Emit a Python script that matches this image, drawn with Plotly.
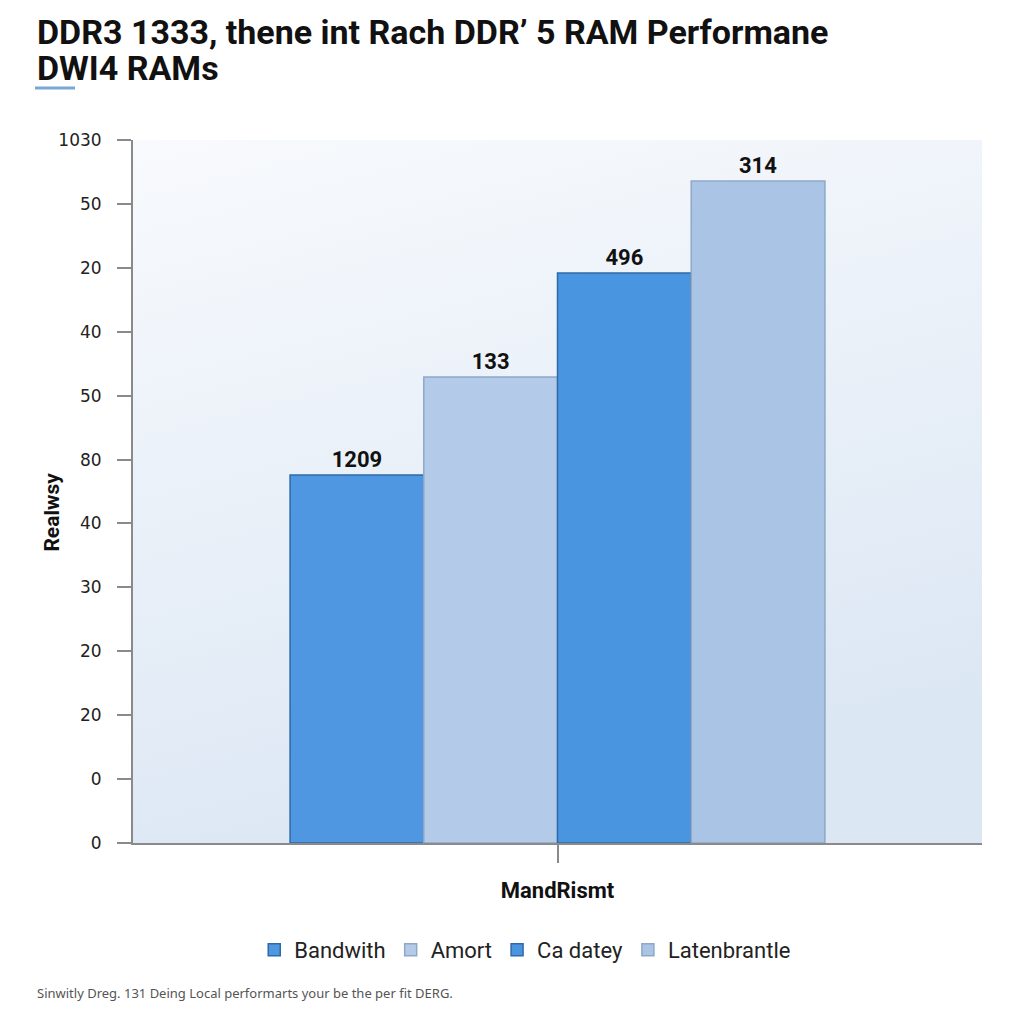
import plotly.graph_objects as go
import base64

# ---- data ----
category = ["MandRismt"]
series_names = ["Bandwith", "Amort", "Ca datey", "Latenbrantle"]
series_values = [576, 729, 892, 1036]
series_labels = ["1209", "133", "496", "314"]
tick_values = [0, 100, 200, 300, 400, 500, 600, 700, 800, 900, 1000, 1100]
tick_labels = ["0", "0", "20", "20", "30", "40", "80", "50", "40", "20", "50", "1030"]
title_lines = ["DDR3 1333, thene int Rach DDR’ 5 RAM Performane", "DWI4 RAMs"]

fills = ["#4f97e0", "#b3cbe8", "#4a95e0", "#a9c4e4"]
lines = ["#2e6aa8", "#8ea8c6", "#2e6aa8", "#8ea8c6"]

fig = go.Figure()
for name, val, lab, fc, lc in zip(series_names, series_values, series_labels, fills, lines):
    fig.add_trace(go.Bar(
        x=category, y=[val], name=name, text=[lab],
        textposition="outside",
        textfont=dict(family="Roboto", size=22, color="#111111", weight="bold"),
        marker=dict(color=fc, line=dict(color=lc, width=1.5)),
        cliponaxis=False,
    ))

svg = ('<svg xmlns="http://www.w3.org/2000/svg" width="100" height="100" preserveAspectRatio="none">'
       '<defs><linearGradient id="g" x1="0" y1="0" x2="0.3" y2="1">'
       '<stop offset="0" stop-color="#f8fafd"/><stop offset="1" stop-color="#dce7f4"/>'
       '</linearGradient></defs><rect width="100" height="100" fill="url(#g)"/></svg>')
bg_src = "data:image/svg+xml;base64," + base64.b64encode(svg.encode()).decode()

title_font = dict(family="Roboto", size=34, color="#111111", weight="bold")

fig.update_layout(
    width=1024, height=1024,
    paper_bgcolor="#ffffff", plot_bgcolor="#eaf0f8",
    margin=dict(l=125, r=50, t=132, b=189),
    barmode="group", bargap=0.37, bargroupgap=0,
    showlegend=True,
    legend=dict(
        orientation="h", x=0.462, xanchor="center", y=-0.152, yanchor="middle",
        font=dict(family="Roboto", size=22, color="#222222"),
        itemwidth=30, bgcolor="rgba(0,0,0,0)",
    ),
    images=[dict(source=bg_src, xref="paper", yref="paper", x=0, y=1, sizex=1, sizey=1,
                 sizing="stretch", layer="below", xanchor="left", yanchor="top")],
    shapes=[dict(type="line", xref="paper", yref="paper",
                 x0=-0.1154, x1=-0.0683, y0=1.074, y1=1.074,
                 line=dict(color="#7aa7d6", width=3))],
    annotations=[
        dict(text=title_lines[0], xref="paper", yref="paper", x=-0.1154, xanchor="left",
             y=1.1536, yanchor="middle", showarrow=False, font=title_font),
        dict(text=title_lines[1], xref="paper", yref="paper", x=-0.1154, xanchor="left",
             y=1.1024, yanchor="middle", showarrow=False, font=title_font),
        dict(text="Sinwitly Dreg. 131 Deing Local performarts your be the per fit DERG.",
             xref="paper", yref="paper", x=-0.1154, xanchor="left", y=-0.213, yanchor="middle",
             showarrow=False, font=dict(family="Noto Sans", size=13, color="#555555")),
        dict(text="Realwsy", xref="paper", yref="paper", x=-0.0954, xanchor="center",
             y=0.47, yanchor="middle", textangle=-90, showarrow=False,
             font=dict(family="Roboto", size=21, color="#111111", weight="bold")),
    ],
)

fig.update_yaxes(
    range=[0, 1100], tickvals=tick_values, ticktext=tick_labels,
    showgrid=False, zeroline=False,
    showline=True, linecolor="#8a8a8a", linewidth=2,
    ticks="outside", ticklen=14, tickcolor="#8a8a8a", tickwidth=2,
    ticklabelstandoff=12,
    tickfont=dict(family="DejaVu Sans", size=17, color="#222222"),
)
fig.update_xaxes(
    showgrid=False, zeroline=False,
    showline=True, linecolor="#8a8a8a", linewidth=2,
    ticks="outside", ticklen=18, tickcolor="#8a8a8a", tickwidth=2,
    ticklabelstandoff=9,
    tickfont=dict(family="Roboto", size=22, color="#111111", weight="bold"),
)

fig.write_html("out.html")
